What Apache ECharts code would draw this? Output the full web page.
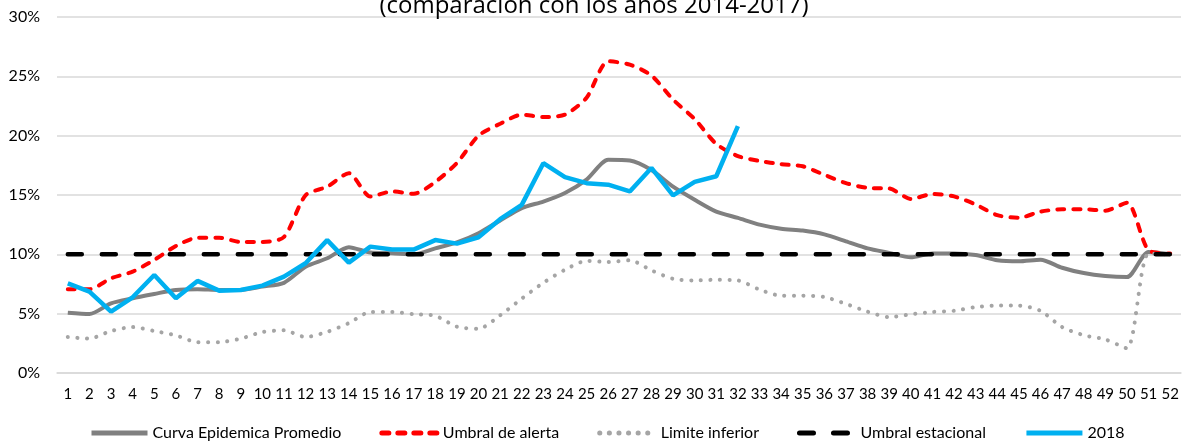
<!DOCTYPE html>
<html>
<head>
<meta charset="utf-8">
<script src="https://cdn.jsdelivr.net/npm/echarts@6/dist/echarts.min.js"></script>
<style>html,body{margin:0;padding:0;background:#fff;}#c{width:1188px;height:445px;}</style>
</head>
<body>
<div id="c"></div>
<script>
var weeks = [];
for (var w = 1; w <= 52; w++) weeks.push(String(w));

var promedio = [5.08,4.97,5.87,6.3,6.66,7.0,7.06,7.0,7.0,7.28,7.6,8.96,9.67,10.6,10.15,10.1,10.0,10.5,11.0,11.78,12.85,13.9,14.45,15.17,16.3,17.96,17.9,17.1,15.7,14.6,13.6,13.07,12.5,12.16,12.0,11.68,11.1,10.5,10.12,9.75,10.08,10.08,9.94,9.5,9.41,9.55,8.87,8.42,8.17,8.08,10.2,10.0];
var alerta = [7.06,7.06,7.98,8.54,9.53,10.7,11.4,11.4,11.04,11.04,11.46,14.98,15.7,16.84,14.87,15.3,15.1,16.1,17.7,20.0,21.0,21.77,21.57,21.77,23.2,26.27,25.99,25.07,23.04,21.4,19.3,18.28,17.87,17.6,17.42,16.7,16.0,15.6,15.55,14.67,15.08,14.88,14.2,13.3,13.08,13.6,13.8,13.8,13.68,14.35,10.34,10.06];
var inferior = [3.03,2.9,3.54,3.87,3.54,3.17,2.6,2.6,2.9,3.45,3.6,3.03,3.47,4.2,5.14,5.14,4.95,4.82,3.9,3.73,4.86,6.27,7.6,8.7,9.45,9.35,9.5,8.65,7.94,7.8,7.86,7.8,7.03,6.52,6.52,6.4,5.82,5.17,4.71,4.94,5.14,5.24,5.56,5.68,5.68,5.24,3.87,3.18,2.83,2.08,10.05,10.0];
var estacional = [10,10,10,10,10,10,10,10,10,10,10,10,10,10,10,10,10,10,10,10,10,10,10,10,10,10,10,10,10,10,10,10,10,10,10,10,10,10,10,10,10,10,10,10,10,10,10,10,10,10,10,10];
var y2018 = [7.56,6.86,5.17,6.38,8.26,6.3,7.76,6.94,7.0,7.36,8.12,9.25,11.2,9.3,10.65,10.4,10.4,11.2,10.9,11.44,12.96,14.17,17.68,16.5,16.0,15.87,15.3,17.28,14.97,16.1,16.58,20.8];
var yTicks = [0,5,10,15,20,25,30];
var titleText = '(comparación con los años 2014-2017)';
var names = ['Curva Epidemica Promedio','Umbral de alerta','Limite inferior','Umbral estacional','2018'];

var FONT = 'Lato';
var chart = echarts.init(document.getElementById('c'));
chart.setOption({
  animation: false,
  backgroundColor: '#fff',
  title: {
    text: titleText, left: 'center', top: -11,
    textStyle: {fontFamily: 'Open Sans', fontSize: 24, fontWeight: 'normal', color: '#000'}
  },
  legend: {
    data: names, bottom: -1, left: 84, itemWidth: 56, itemHeight: 10, itemGap: 38,
    itemStyle: {opacity: 0},
    lineStyle: {width: 5},
    textStyle: {fontFamily: FONT, fontSize: 16, color: '#000'}
  },
  grid: {left: 57, right: 7, top: 17, bottom: 72, containLabel: false},
  xAxis: {
    type: 'category', data: weeks, boundaryGap: true,
    axisLine: {show: true, lineStyle: {color: '#D9D9D9', width: 1.5}},
    axisTick: {show: false},
    axisLabel: {interval: 0, margin: 14, fontFamily: FONT, fontSize: 15, color: '#000'}
  },
  yAxis: {
    type: 'value', min: yTicks[0], max: yTicks[yTicks.length-1], interval: 5,
    axisLine: {show: false}, axisTick: {show: false},
    axisLabel: {formatter: '{value}%', margin: 17, fontFamily: FONT, fontSize: 16, color: '#000'},
    splitLine: {lineStyle: {color: '#D9D9D9', width: 1.5}}
  },
  series: [
    {name: names[0], type: 'line', data: promedio, symbol: 'none', smooth: 0.25,
     lineStyle: {color: '#808080', width: 4}, itemStyle: {color: '#808080'}},
    {name: names[1], type: 'line', data: alerta, symbol: 'none', smooth: 0.25,
     lineStyle: {color: '#FF0000', width: 4, type: [7, 9], cap: 'round'}, itemStyle: {color: '#FF0000'}},
    {name: names[2], type: 'line', data: inferior, symbol: 'none', smooth: 0.25,
     lineStyle: {color: '#A5A5A5', width: 4, type: [0.1, 9.5], cap: 'round'}, itemStyle: {color: '#A5A5A5'}},
    {name: names[3], type: 'line', data: estacional, symbol: 'none',
     lineStyle: {color: '#000000', width: 4.5, type: [14, 20], cap: 'round'}, itemStyle: {color: '#000000'}},
    {name: names[4], type: 'line', data: y2018, symbol: 'none',
     lineStyle: {color: '#00B0F0', width: 4.5}, itemStyle: {color: '#00B0F0'}}
  ]
});
</script>
</body>
</html>
